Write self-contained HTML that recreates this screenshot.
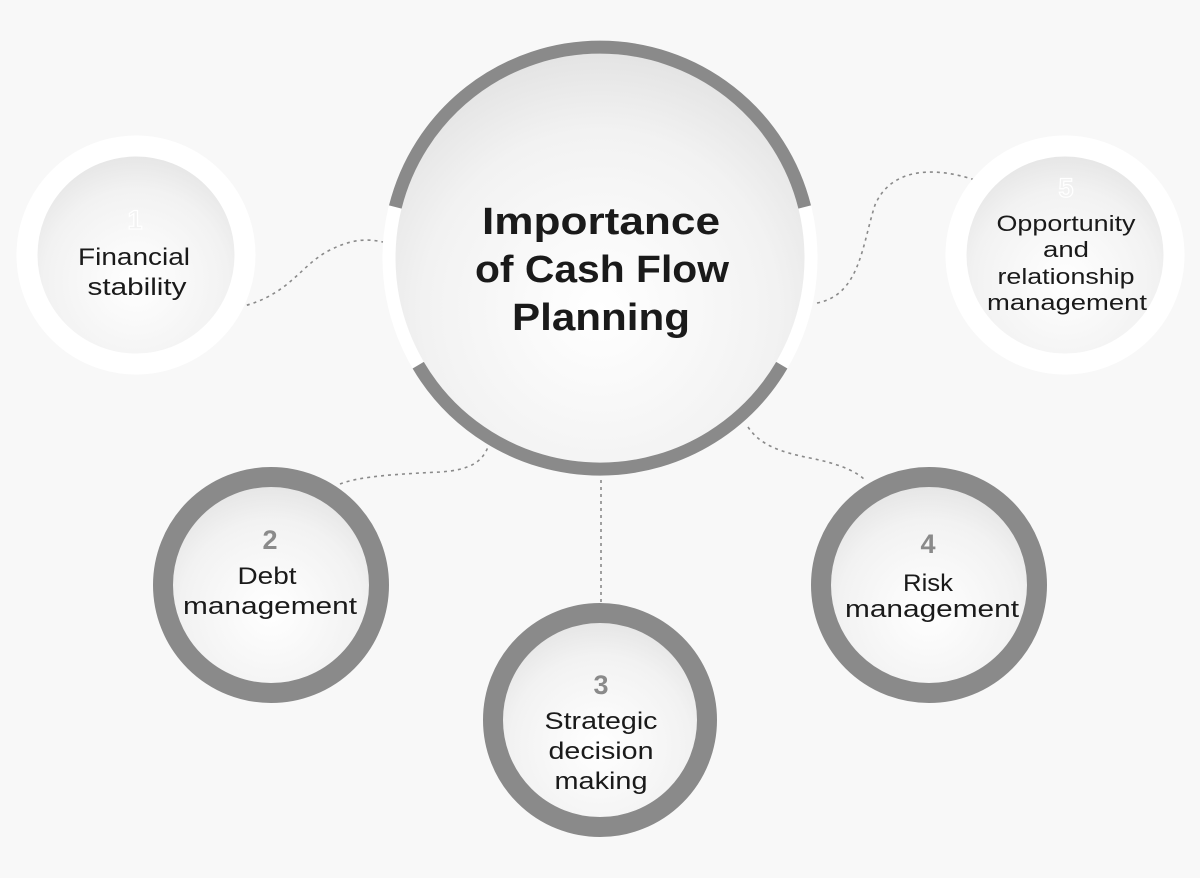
<!DOCTYPE html>
<html><head><meta charset="utf-8"><style>
html,body{margin:0;padding:0;background:#f8f8f8;}
svg{display:block}
text{font-family:"Liberation Sans",sans-serif;text-anchor:middle;}
.l{font-size:24px;fill:#1a1a1a;}
.s{font-size:22px;fill:#1a1a1a;}
.n{font-size:27px;font-weight:bold;fill:#8a8a8a;}
.o{font-size:27px;font-weight:bold;fill:#f2f2f2;stroke:#ffffff;stroke-width:1.2;}
.t{font-size:38px;font-weight:bold;fill:#1a1a1a;}
</style></head><body>
<svg width="1200" height="878" viewBox="0 0 1200 878">
<defs>
<radialGradient id="g" cx="0.5" cy="0.62" r="0.6">
<stop offset="0" stop-color="#ffffff"/><stop offset="0.7" stop-color="#f2f2f2"/><stop offset="1" stop-color="#e4e4e4"/>
</radialGradient>
</defs>
<rect width="1200" height="878" fill="#f8f8f8"/>
<g fill="none" stroke="#8a8a8a" stroke-width="1.6" stroke-dasharray="3 4">
<path d="M240,307 C290,295 300,265 330,250 C350,240 365,238 383,242"/>
<path d="M817,303 C860,295 862,245 875,205 C890,170 930,165 975,180"/>
<path d="M340,484 C360,476 400,474 440,472 C470,470 482,462 488,447"/>
<path d="M601,480 L601,602"/>
<path d="M748,427 C760,445 780,452 810,458 C835,463 855,470 865,480"/>
</g>
<circle cx="600" cy="258" r="211" fill="url(#g)" stroke="#ffffff" stroke-width="13"/>
<path d="M395.3,207 A211,211 0 0 1 804.7,207" fill="none" stroke="#8a8a8a" stroke-width="13"/>
<path d="M781.8,365.2 A211,211 0 0 1 418.2,365.2" fill="none" stroke="#8a8a8a" stroke-width="13"/>
<text class="t" x="601" y="234" textLength="238" lengthAdjust="spacingAndGlyphs">Importance</text>
<text class="t" x="602" y="282" textLength="254" lengthAdjust="spacingAndGlyphs">of Cash Flow</text>
<text class="t" x="601" y="330" textLength="178" lengthAdjust="spacingAndGlyphs">Planning</text>
<circle cx="136" cy="255" r="109" fill="url(#g)" stroke="#ffffff" stroke-width="21"/>
<text class="o" x="135" y="229">1</text>
<text class="l" x="134" y="265" textLength="112" lengthAdjust="spacingAndGlyphs">Financial</text>
<text class="l" x="137" y="295" textLength="99" lengthAdjust="spacingAndGlyphs">stability</text>
<circle cx="1065" cy="255" r="109" fill="url(#g)" stroke="#ffffff" stroke-width="21"/>
<text class="o" x="1066" y="197">5</text>
<text class="s" x="1066" y="231" textLength="139" lengthAdjust="spacingAndGlyphs">Opportunity</text>
<text class="s" x="1066" y="257" textLength="46" lengthAdjust="spacingAndGlyphs">and</text>
<text class="s" x="1066" y="284" textLength="137" lengthAdjust="spacingAndGlyphs">relationship</text>
<text class="s" x="1067" y="310" textLength="160" lengthAdjust="spacingAndGlyphs">management</text>
<circle cx="271" cy="585" r="108" fill="url(#g)" stroke="#8a8a8a" stroke-width="20"/>
<text class="n" x="270" y="549">2</text>
<text class="l" x="267" y="584" textLength="59" lengthAdjust="spacingAndGlyphs">Debt</text>
<text class="l" x="270" y="614" textLength="174" lengthAdjust="spacingAndGlyphs">management</text>
<circle cx="600" cy="720" r="107" fill="url(#g)" stroke="#8a8a8a" stroke-width="20"/>
<text class="n" x="601" y="694">3</text>
<text class="l" x="601" y="729" textLength="113" lengthAdjust="spacingAndGlyphs">Strategic</text>
<text class="l" x="601" y="759" textLength="105" lengthAdjust="spacingAndGlyphs">decision</text>
<text class="l" x="601" y="789" textLength="93" lengthAdjust="spacingAndGlyphs">making</text>
<circle cx="929" cy="585" r="108" fill="url(#g)" stroke="#8a8a8a" stroke-width="20"/>
<text class="n" x="928" y="553">4</text>
<text class="l" x="928" y="591" textLength="50" lengthAdjust="spacingAndGlyphs">Risk</text>
<text class="l" x="932" y="617" textLength="174" lengthAdjust="spacingAndGlyphs">management</text>
</svg>
</body></html>
